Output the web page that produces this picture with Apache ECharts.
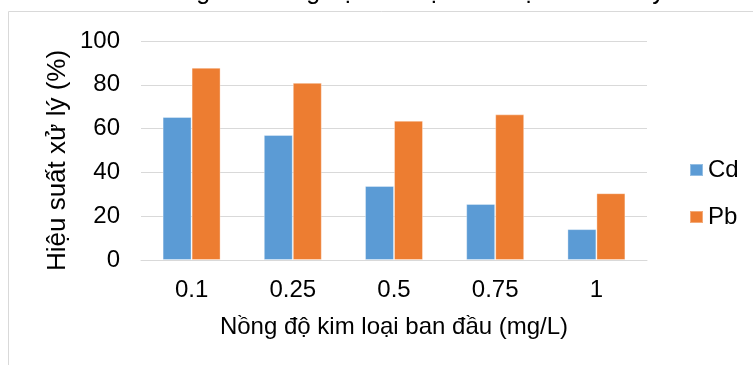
<!DOCTYPE html>
<html>
<head>
<meta charset="utf-8">
<script src="https://cdn.jsdelivr.net/npm/echarts@6/dist/echarts.min.js"></script>
<style>
  html, body { margin: 0; padding: 0; background: #fff; }
  #chart { width: 753px; height: 365px; }
</style>
</head>
<body>
<div id="chart"></div>
<script>
var categories = ['0.1', '0.25', '0.5', '0.75', '1'];
var cdValues = [65.3, 57.1, 33.8, 25.6, 14.1];
var pbValues = [87.8, 80.9, 63.6, 66.5, 30.5];
var seriesNames = ['Cd', 'Pb'];
var yTicks = { min: 0, max: 100, interval: 20 };
var titleText = 'Ảnh hưởng của nồng độ kim loại đến hiệu suất xử lý';
var yName = 'Hiệu suất xử lý (%)';
var xName = 'Nồng độ kim loại ban đầu (mg/L)';

var font = 'Liberation Sans, Arial, sans-serif';
var chart = echarts.init(document.getElementById('chart'), null, {renderer: 'canvas'});

var option = {
    animation: false,
    color: ['#5B9BD5', '#ED7D31'],
    textStyle: { fontFamily: font },
    graphic: [
        {
            type: 'rect',
            shape: { x: 8.5, y: 11.5, width: 800, height: 400 },
            style: { fill: 'none', stroke: '#d9d9d9', lineWidth: 1 },
            silent: true
        },
        {
            type: 'text',
            left: 84, top: -20,
            style: { text: titleText, font: '25px ' + font, fill: '#000' }
        },
        {
            type: 'text',
            x: 58, y: 160.5,
            rotation: Math.PI / 2,
            style: {
                text: yName, font: '26px ' + font, fill: '#000',
                align: 'center', verticalAlign: 'middle'
            }
        }
    ],
    grid: { left: 141, right: 106, top: 41, bottom: 105, containLabel: false },
    legend: {
        data: seriesNames,
        orient: 'vertical',
        left: 689, top: 158,
        padding: 0,
        itemWidth: 13, itemHeight: 12,
        itemGap: 23,
        icon: 'rect',
        textStyle: { fontSize: 24, color: '#000', fontFamily: font }
    },
    xAxis: {
        type: 'category',
        data: categories,
        name: xName,
        nameLocation: 'middle',
        nameGap: 55,
        nameTextStyle: { fontSize: 24, color: '#000', fontFamily: font },
        axisLine: { lineStyle: { color: '#d9d9d9', width: 1 } },
        axisTick: { show: false },
        axisLabel: { fontSize: 24, color: '#000', margin: 18, fontFamily: font }
    },
    yAxis: {
        type: 'value',
        min: yTicks.min, max: yTicks.max, interval: yTicks.interval,
        axisLine: { show: false },
        axisTick: { show: false },
        splitLine: { lineStyle: { color: '#d9d9d9', width: 1 } },
        axisLabel: { fontSize: 24, color: '#000', margin: 21, fontFamily: font }
    },
    series: [
        {
            name: seriesNames[0], type: 'bar', data: cdValues,
            barWidth: 29, barGap: '0%',
            itemStyle: { borderColor: 'rgba(255,255,255,0.35)', borderWidth: 1 }
        },
        {
            name: seriesNames[1], type: 'bar', data: pbValues,
            barWidth: 29, barGap: '0%',
            itemStyle: { borderColor: 'rgba(255,255,255,0.35)', borderWidth: 1 }
        }
    ]
};
chart.setOption(option);
</script>
</body>
</html>
